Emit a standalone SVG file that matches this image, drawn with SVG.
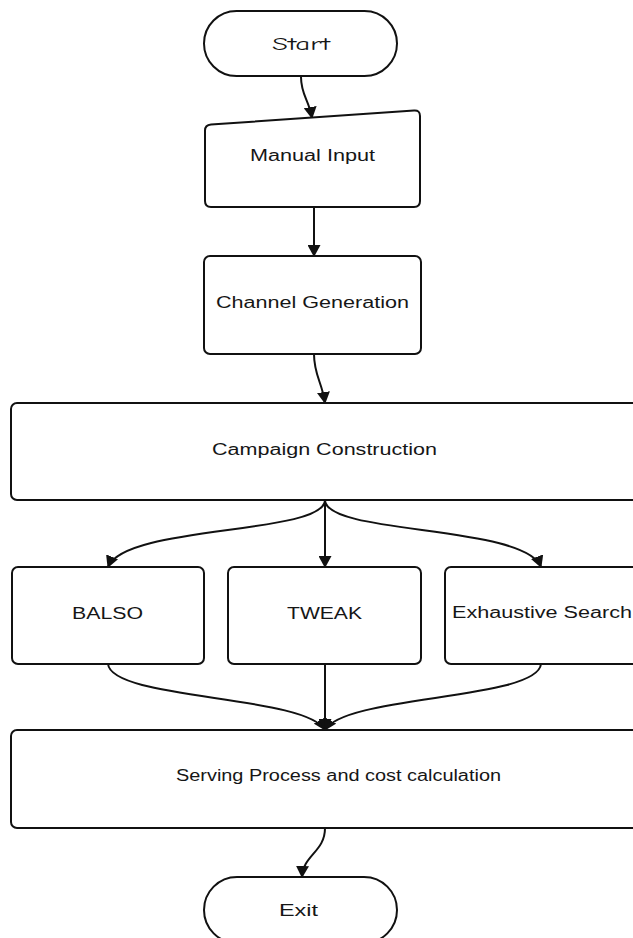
<svg xmlns="http://www.w3.org/2000/svg" width="633" height="938" viewBox="0 0 633 938">
  <style>
    .shape { fill: #ffffff; stroke: #111111; stroke-width: 2; }
    .label { font-family: "Liberation Sans", Arial, sans-serif; font-size: 16px; fill: #161616; }
    .comic { font-family: "Comic Sans MS", "Comic Neue", cursive, sans-serif; font-size: 17px; fill: #161616; }
    .edge { fill: none; stroke: #111111; stroke-width: 2; marker-end: url(#arrow); }
  </style>
  <defs>
    <marker id="arrow" viewBox="0 0 12 13" refX="11" refY="6.5" markerWidth="12" markerHeight="13" markerUnits="userSpaceOnUse" orient="auto">
      <path d="M0,0 L12,6.5 L0,13 z" fill="#111111"/>
    </marker>
  </defs>
  <rect width="633" height="938" fill="#ffffff"/>

  <g id="connectors">
    <path class="edge" d="M301 77 C 301 95, 309 100, 312 118"/>
    <path class="edge" d="M314 207 L 314 256"/>
    <path class="edge" d="M314 354 C 314 375, 322 382, 325 403"/>
    <path class="edge" d="M325 501 C 320 535, 125 525, 108 567"/>
    <path class="edge" d="M325 501 L 325 567"/>
    <path class="edge" d="M325 501 C 330 535, 525 525, 541 567"/>
    <path class="edge" d="M108 664 C 112 700, 305 695, 325 730"/>
    <path class="edge" d="M325 664 L 325 730"/>
    <path class="edge" d="M541 664 C 537 700, 345 695, 325 730"/>
    <path class="edge" d="M325 828 C 325 852, 303 855, 302 877"/>
  </g>

  <g id="start">
    <rect class="shape" x="204" y="11" width="193" height="65" rx="32.5"/>
    <text class="comic" x="272" y="50" textLength="58" lengthAdjust="spacingAndGlyphs">Start</text>
  </g>

  <g id="manual-input">
    <path class="shape" d="M211 124.5 L414 110.5 Q420 110 420 116 L420 201 Q420 207 414 207 L211 207 Q205 207 205 201 L205 130.5 Q205 125 211 124.5 Z"/>
    <text class="label" x="250" y="161" textLength="125" lengthAdjust="spacingAndGlyphs">Manual Input</text>
  </g>

  <g id="channel-generation">
    <rect class="shape" x="204" y="256" width="217" height="98" rx="6"/>
    <text class="label" x="216" y="308" textLength="193" lengthAdjust="spacingAndGlyphs">Channel Generation</text>
  </g>

  <g id="campaign-construction">
    <rect class="shape" x="11" y="403" width="640" height="97" rx="6"/>
    <text class="label" x="212" y="455" textLength="225" lengthAdjust="spacingAndGlyphs">Campaign Construction</text>
  </g>

  <g id="balso">
    <rect class="shape" x="12" y="567" width="192" height="97" rx="6"/>
    <text class="label" x="72" y="619" textLength="71" lengthAdjust="spacingAndGlyphs">BALSO</text>
  </g>

  <g id="tweak">
    <rect class="shape" x="228" y="567" width="193" height="97" rx="6"/>
    <text class="label" x="287" y="619" textLength="75" lengthAdjust="spacingAndGlyphs">TWEAK</text>
  </g>

  <g id="exhaustive-search">
    <rect class="shape" x="445" y="567" width="200" height="97" rx="6"/>
    <text class="label" x="452" y="618" textLength="180" lengthAdjust="spacingAndGlyphs">Exhaustive Search</text>
  </g>

  <g id="serving-process">
    <rect class="shape" x="11" y="730" width="640" height="98" rx="6"/>
    <text class="label" x="176" y="781" textLength="325" lengthAdjust="spacingAndGlyphs">Serving Process and cost calculation</text>
  </g>

  <g id="exit">
    <rect class="shape" x="204" y="877" width="193" height="66" rx="33"/>
    <text class="label" x="279" y="916" textLength="39" lengthAdjust="spacingAndGlyphs">Exit</text>
  </g>
</svg>
